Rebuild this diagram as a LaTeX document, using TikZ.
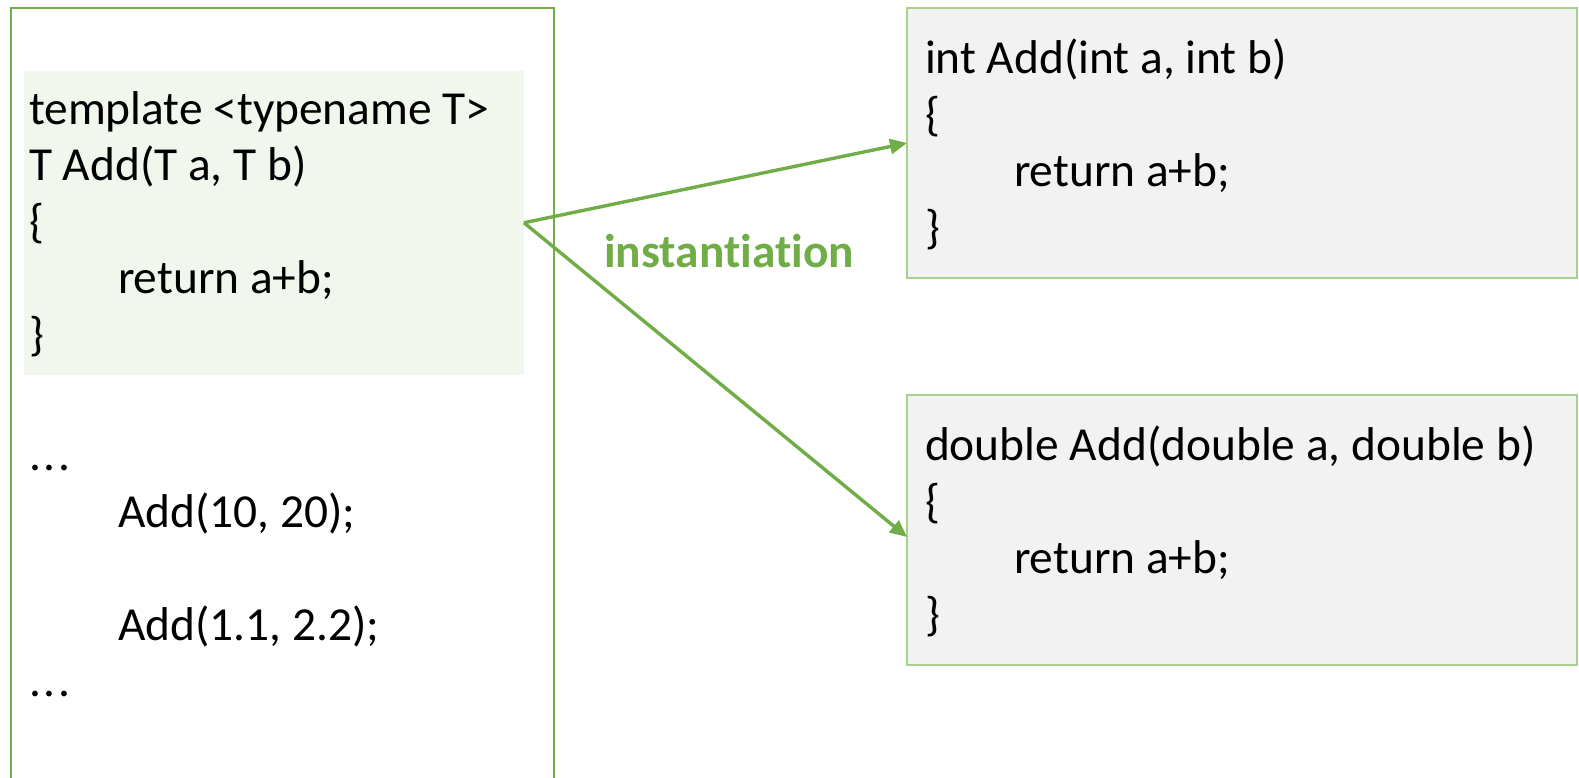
\documentclass[tikz,border=0pt]{standalone}
\usepackage{fontspec}
\setmainfont{Carlito}[Ligatures=NoCommon]
\usetikzlibrary{arrows.meta}

\definecolor{instgreen}{HTML}{70AD47}
\definecolor{paleedge}{HTML}{A9D18E}
\definecolor{palegreen}{HTML}{F1F7ED}
\definecolor{boxgray}{HTML}{F2F2F2}
\newcommand{\codefont}{\fontsize{23.7}{28.25}\selectfont}
\newcommand{\tabin}{\hspace*{44.5pt}}
\newcommand{\codedots}{.\kern1.5pt.\kern1.5pt.}

\begin{document}
\begin{tikzpicture}
	[x=0.5pt,y=-0.5pt,
	 every node/.style={inner sep=0pt, outer sep=0pt},
	 codetext/.style={anchor=base west, align=left, font=\codefont},
	 instbox/.style={draw=paleedge, fill=boxgray, line width=1.2pt, anchor=north west,
	                 minimum width=335pt, minimum height=135pt},
	 inst/.style={-{Triangle[length=8.5pt,width=7.5pt]}, draw=instgreen, line width=1.7pt}]
	\useasboundingbox (0,0) rectangle (1579,777);
	\clip (0,0) rectangle (1579,777);

	% template side (code nodes sit on the baseline of their last line)
	\node[draw=instgreen, line width=1.3pt, anchor=north west,
	      minimum width=271.5pt, minimum height=400pt] (callbox) at (11,8) {};
	\node[fill=palegreen, anchor=north west,
	      minimum width=250pt, minimum height=152.25pt] (tmplbox) at (24,70.5) {};
	\node[codetext] (tmplcode) at (29,350)
		{template <typename T>\\T Add(T a, T b)\\\{\\\tabin return a+b;\\\}};
	\node[codetext] (callcode) at (29,696.5)
		{\codedots\\\tabin Add(10, 20);\\[28.25pt]\tabin Add(1.1, 2.2);\\\codedots};

	% instances
	\node[instbox] (intbox) at (907,8) {};
	\node[instbox] (dblbox) at (907,395) {};
	\node[codetext] (intcode) at (925,243)
		{int Add(int a, int b)\\\{\\\tabin return a+b;\\\}};
	\node[codetext] (dblcode) at (925,630)
		{double Add(double a, double b)\\\{\\\tabin return a+b;\\\}};

	\node[font=\codefont\bfseries, text=instgreen, anchor=base] (instlabel) at (729,267) {instantiation};

	\draw[inst] (tmplbox.east) -- (intbox.west);
	\draw[inst] (tmplbox.east) -- ([yshift=-3.5pt]dblbox.west);
\end{tikzpicture}
\end{document}
